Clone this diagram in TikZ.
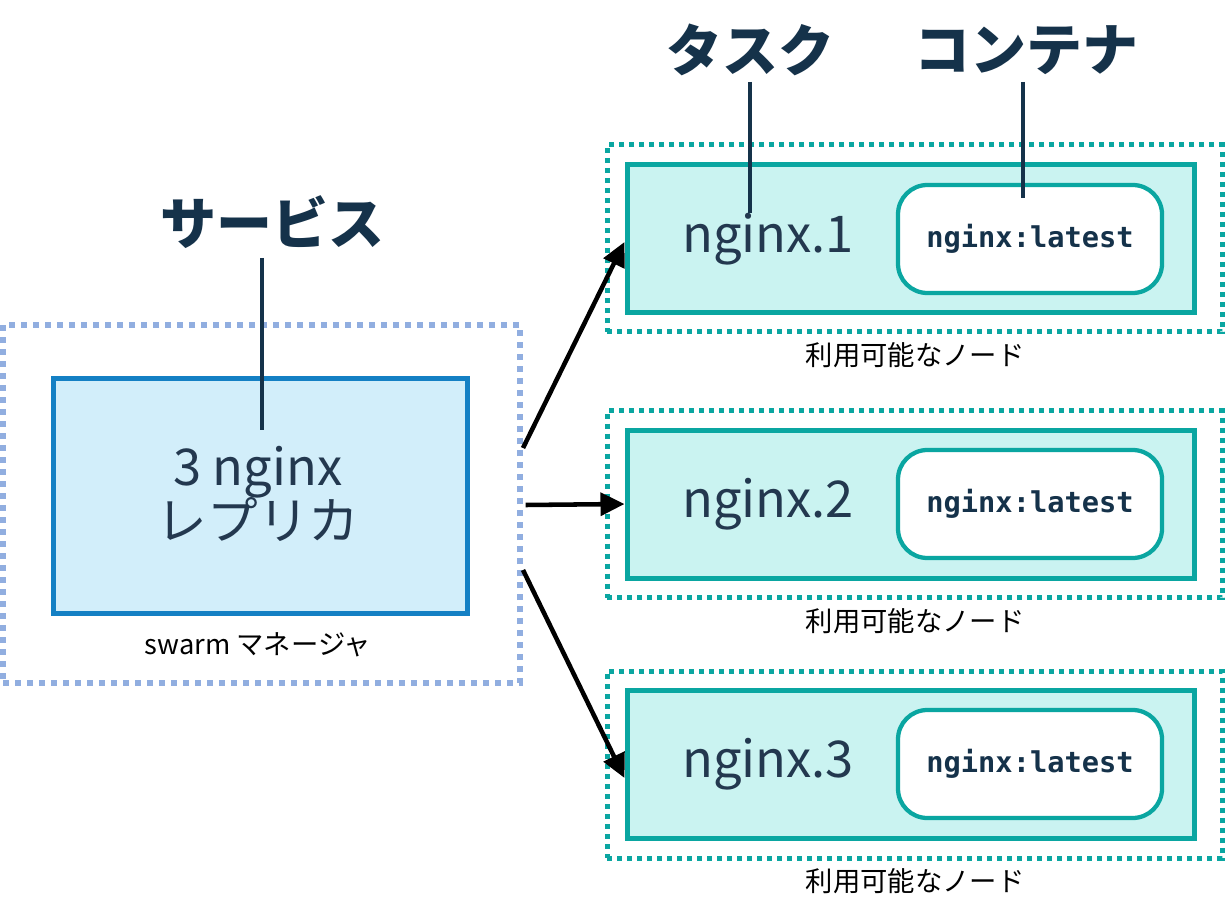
\documentclass[tikz,border=0pt]{standalone}
\usepackage{fontspec}
\setmainfont{Noto Sans CJK JP}
\newfontfamily\codefont{DejaVu Sans Mono}
\usetikzlibrary{arrows.meta}
\definecolor{mgrdot}{HTML}{91AEE0}
\definecolor{mgrline}{HTML}{1480C4}
\definecolor{mgrfill}{HTML}{D2EEFA}
\definecolor{tealc}{HTML}{0AA6A1}
\definecolor{tealfill}{HTML}{CAF3F1}
\definecolor{txtdark}{HTML}{23384F}
\definecolor{headdark}{HTML}{15324A}
\tikzset{
  mgrouter/.style={draw=mgrdot, line width=4.5pt, dash pattern=on 4.5pt off 4.5pt, minimum width=387.75pt, minimum height=268.5pt, inner sep=0pt},
  repbox/.style={draw=mgrline, fill=mgrfill, line width=3.75pt, minimum width=310.5pt, minimum height=176.25pt, inner sep=0pt},
  nodeouter/.style={draw=tealc, line width=3.75pt, dash pattern=on 3.75pt off 3.75pt, minimum width=461.25pt, minimum height=140.25pt, inner sep=0pt},
  taskbox/.style={draw=tealc, fill=tealfill, line width=3.75pt, minimum width=425.25pt, minimum height=111pt, inner sep=0pt},
  contbox/.style={draw=tealc, fill=white, line width=3.2pt, rounded corners=22pt, minimum width=198pt, minimum height=81pt, inner sep=0pt},
  tasktxt/.style={text=txtdark, font=\fontsize{38}{44}\selectfont},
  conttxt/.style={text=headdark, font=\codefont\bfseries\fontsize{21.5}{26}\selectfont},
  smalltxt/.style={text=black, font=\fontsize{20.5}{24}\selectfont},
  headtxt/.style={text=headdark, font=\bfseries\fontsize{42}{48}\selectfont},
  headline/.style={draw=headdark, line width=3pt},
  arr/.style={draw=black, line width=3.4pt, -{Triangle[length=18pt,width=17pt]}}
}
\begin{document}
\begin{tikzpicture}[x=0.75pt,y=-0.75pt]
\useasboundingbox[fill=white] (0,0) rectangle (1226,919);

% manager
\node[mgrouter] (mgr) at (261.5,504) {};
\node[repbox] (rep) at (260,495.5) {};
\node[tasktxt, align=center, inner sep=0pt] (reptxt) at (258,494) {3 nginx\\[-4pt]レプリカ};
\node[smalltxt] (mgrlbl) at (258,645) {swarm マネージャ};

% service heading
\node[headtxt] (svc) at (272,222) {サービス};
\coordinate (svcend) at (262,430);
\draw[headline] (svcend |- 0,258) -- (svcend);

% nodes
\foreach \i/\y/\yo in {1/239/238.5, 2/504/504, 3/764/764.5} {
  \node[nodeouter] (out\i) at (914.5,\yo) {};
  \node[taskbox] (task\i) at (910.5,\y) {};
  \node[contbox] (cont\i) at (1030,\y) {};
  \node[tasktxt] (tt\i) at (768,\y) {nginx.\i};
  \node[conttxt] (ct\i) at (1030,\y) {nginx:latest};
  \node[smalltxt] (lbl\i) at (915,\yo+117) {利用可能なノード};
}

% headings
\node[headtxt] (tsk) at (750,50) {タスク};
\node[headtxt] (cnt) at (1026,50) {コンテナ};
\coordinate (tskend) at (750,213);
\coordinate (cntend) at (1023,198);
\draw[headline] (tskend |- 0,82) -- (tskend);
\draw[headline] (cntend |- 0,82) -- (cntend);

% arrows
\draw[arr] ([yshift=42pt]mgr.east) -- ([yshift=-2.25pt]task1.west);
\draw[arr] ([xshift=2pt,yshift=-0.75pt]mgr.east) -- (task2.west);
\draw[arr] ([yshift=-49.5pt]mgr.east) -- ([yshift=-10.5pt]task3.west);
\end{tikzpicture}
\end{document}
